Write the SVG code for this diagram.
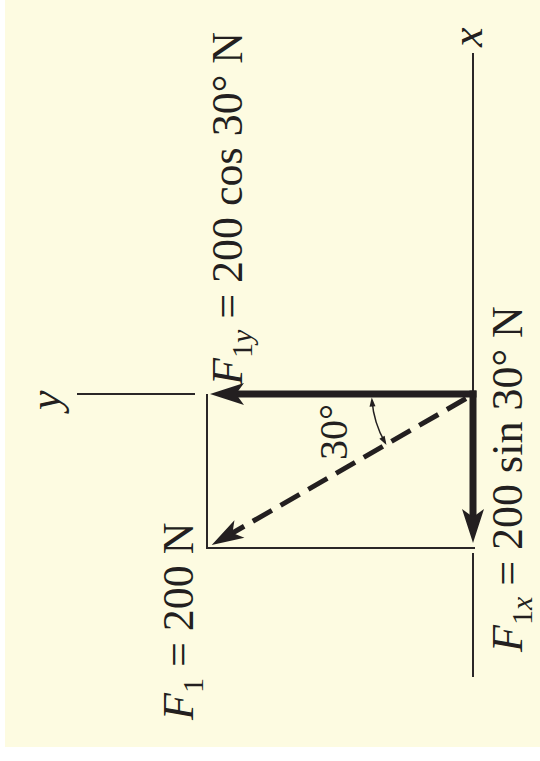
<svg xmlns="http://www.w3.org/2000/svg" width="540" height="761" viewBox="0 0 540 761">
  <style>
    .bg { fill: #FDFBE1; }
    .thin { stroke: #2a2627; stroke-width: 2; fill: none; }
    .thick { stroke: #231F20; stroke-width: 7; fill: none; }
    .dash { stroke: #231F20; stroke-width: 5; fill: none; stroke-dasharray: 22 10; }
    .arc { stroke: #231F20; stroke-width: 1.5; fill: none; }
    text { font-family: "Liberation Serif", "Times New Roman", serif; font-size: 44px; fill: #231F20; }
    .it { font-style: italic; }
    .sub { font-size: 30px; }
  </style>
  <defs>
    <marker id="head" markerUnits="userSpaceOnUse" orient="auto" refX="0" refY="0" markerWidth="60" markerHeight="40" overflow="visible">
      <path d="M20,0 L-14,-11 L-6,0 L-14,11 Z" fill="#231F20"/>
    </marker>
    <marker id="dhead" markerUnits="userSpaceOnUse" orient="auto" refX="0" refY="0" markerWidth="60" markerHeight="40" overflow="visible">
      <path d="M18,0 L-14,-10 L-6,0 L-14,10 Z" fill="#231F20"/>
    </marker>
    <marker id="small" markerUnits="userSpaceOnUse" orient="auto-start-reverse" refX="0" refY="0" markerWidth="20" markerHeight="20" overflow="visible">
      <path d="M3,0 L-6,-3 L-6,3 Z" fill="#231F20"/>
    </marker>
  </defs>

  <rect class="bg" x="5" y="0" width="535" height="747"/>

  <g id="axes">
    <line class="thin" x1="473" y1="53" x2="473" y2="394"/>
    <line class="thin" x1="473" y1="553" x2="473" y2="677"/>
    <line class="thin" x1="77" y1="394" x2="195" y2="394"/>
  </g>

  <g id="rectangle">
    <path class="thin" d="M207,394 V548 H475"/>
  </g>

  <g id="connectors">
    <path id="F1y-arrow" class="thick" d="M476.5,394 H230" marker-end="url(#head)"/>
    <path id="F1x-arrow" class="thick" d="M473,390.5 V523" marker-end="url(#head)"/>
    <path id="F1-arrow" class="dash" d="M466,398.5 L227.3,536" marker-end="url(#dhead)"/>
    <path id="angle-arc" class="arc" d="M372,400.5 A101,101 0 0 0 385,442.5" marker-start="url(#small)" marker-end="url(#small)"/>
  </g>

  <g id="label-x">
    <text class="it" transform="translate(482,47) rotate(-90)">x</text>
  </g>
  <g id="label-y">
    <text class="it" transform="translate(60,410) rotate(-90)">y</text>
  </g>
  <g id="label-F1y">
    <text transform="translate(242,385) rotate(-90)"><tspan class="it">F</tspan><tspan class="sub" dy="10">1</tspan><tspan class="sub it">y</tspan><tspan dy="-10"> = 200 cos 30° N</tspan></text>
  </g>
  <g id="label-F1x">
    <text transform="translate(522,652) rotate(-90)"><tspan class="it">F</tspan><tspan class="sub" dy="10">1</tspan><tspan class="sub it">x</tspan><tspan dy="-10"> = 200 sin 30° N</tspan></text>
  </g>
  <g id="label-F1">
    <text transform="translate(193,720) rotate(-90)"><tspan class="it">F</tspan><tspan class="sub" dy="10">1</tspan><tspan dy="-10"> = 200 N</tspan></text>
  </g>
  <g id="label-angle">
    <text font-size="40" style="font-size:40px" transform="translate(347,460) rotate(-90)">30°</text>
  </g>
</svg>
